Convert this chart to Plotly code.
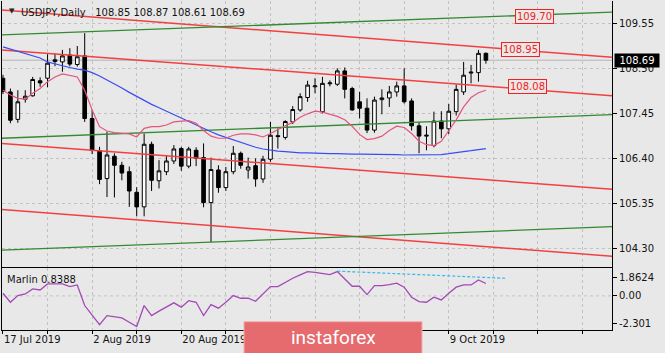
import plotly.graph_objects as go

# ---------------- data ----------------
symbol = "USDJPY"
timeframe = "Daily"

bars = list(range(66))  # trading-day index, 0 = 17 Jul 2019 ... 65 = 16 Oct 2019

opens = [108.27, 107.95, 107.31, 107.78, 107.86, 108.21, 108.27, 108.66, 108.65, 108.81,
         108.59, 108.79, 107.33, 106.58, 105.93, 106.45, 106.24, 106.09, 105.61, 105.27,
         106.73, 105.88, 106.09, 106.34, 106.63, 106.22, 106.59, 106.42, 105.37, 106.13,
         105.72, 106.09, 106.52, 106.13, 106.23, 105.92, 106.38, 106.93, 106.89, 107.25,
         107.53, 107.82, 108.07, 107.49, 108.14, 108.13, 108.44, 108.03, 107.72, 107.57,
         107.06, 107.77, 107.81, 107.95, 108.09, 107.74, 107.16, 106.92, 106.70, 107.27,
         107.09, 107.49, 107.95, 108.39, 108.40, 108.85]
highs = [108.35, 108.03, 107.99, 107.99, 108.30, 108.29, 108.83, 108.85, 108.93, 108.97,
         109.02, 109.32, 107.53, 106.67, 107.02, 106.52, 106.32, 106.21, 105.73, 106.98,
         106.79, 106.36, 106.48, 106.71, 106.67, 106.67, 106.66, 106.75, 106.42, 106.24,
         106.20, 106.69, 106.56, 106.42, 106.40, 106.46, 107.25, 107.10, 107.29, 107.62,
         107.92, 108.21, 108.27, 108.30, 108.22, 108.50, 108.52, 108.07, 107.95, 107.80,
         107.84, 108.01, 108.09, 108.19, 108.50, 107.80, 107.25, 107.15, 107.49, 107.50,
         107.67, 108.12, 108.65, 108.58, 108.93, 108.87]
lows = [107.90, 107.22, 107.23, 107.70, 107.84, 108.07, 108.06, 108.55, 108.42, 108.55,
        108.54, 107.25, 106.50, 105.80, 105.50, 105.49, 105.89, 105.27, 105.05, 105.05,
        105.64, 105.70, 106.01, 106.27, 106.11, 106.17, 106.22, 105.26, 104.45, 105.60,
        105.64, 106.03, 106.16, 105.93, 105.74, 105.83, 106.32, 106.63, 106.84, 107.20,
        107.49, 107.72, 107.92, 107.45, 108.08, 108.09, 107.80, 107.51, 107.33, 106.99,
        107.00, 107.43, 107.60, 107.84, 107.68, 107.05, 106.52, 106.59, 106.66, 106.87,
        106.97, 107.40, 107.88, 108.15, 108.19, 108.61]
closes = [107.96, 107.29, 107.72, 107.85, 108.24, 108.16, 108.62, 108.70, 108.79, 108.60,
          108.77, 107.33, 106.59, 105.91, 106.48, 106.24, 106.06, 105.64, 105.27, 106.73,
          105.89, 106.11, 106.34, 106.62, 106.22, 106.62, 106.40, 105.37, 106.14, 105.72,
          106.09, 106.52, 106.24, 106.20, 105.92, 106.38, 106.94, 106.91, 107.26, 107.54,
          107.84, 108.11, 108.09, 108.15, 108.16, 108.44, 108.01, 107.53, 107.57, 107.06,
          107.76, 107.81, 107.95, 108.09, 107.72, 107.16, 106.92, 106.94, 107.27, 107.09,
          107.50, 108.01, 108.34, 108.41, 108.85, 108.69]

ma_slow = [109.00, 108.95, 108.90, 108.85, 108.80, 108.74, 108.65, 108.60, 108.56, 108.52,
           108.48, 108.46, 108.40, 108.32, 108.23, 108.13, 108.04, 107.94, 107.84, 107.75,
           107.66, 107.58, 107.50, 107.41, 107.33, 107.25, 107.17, 107.09, 107.02, 106.95,
           106.89, 106.83, 106.77, 106.71, 106.66, 106.62, 106.59, 106.57, 106.56, 106.54,
           106.53, 106.53, 106.52, 106.52, 106.51, 106.51, 106.50, 106.50, 106.50, 106.50,
           106.50, 106.49, 106.49, 106.49, 106.48, 106.48, 106.48, 106.48, 106.48, 106.49,
           106.51, 106.54, 106.56, 106.58, 106.60, 106.63]
ma_fast = [107.99, 107.88, 107.80, 107.78, 107.92, 108.03, 108.19, 108.30, 108.37, 108.34,
           108.30, 107.99, 107.53, 107.14, 107.04, 107.00, 106.98, 106.97, 106.90, 107.10,
           107.14, 107.14, 107.18, 107.25, 107.27, 107.28, 107.22, 107.05, 106.92, 106.87,
           106.87, 106.94, 106.97, 106.97, 106.95, 106.90, 106.98, 107.08, 107.16, 107.24,
           107.36, 107.44, 107.50, 107.48, 107.43, 107.38, 107.30, 107.15, 106.96, 106.84,
           106.86, 106.92, 107.05, 107.15, 107.12, 106.98, 106.80, 106.72, 106.70, 106.80,
           107.05, 107.30, 107.60, 107.82, 107.93, 107.99]

marlin = [0.18, -0.43, 0.02, 0.13, 0.47, 0.40, 0.81, 0.81, 0.81, 0.63,
          0.74, -0.65, -1.33, -1.94, -1.33, -1.40, -1.48, -1.78, -2.07, -0.65,
          -1.33, -1.03, -0.76, -0.47, -0.76, -0.32, -0.43, -1.33, -0.59, -0.83,
          -0.43, 0.02, -0.16, -0.16, -0.36, 0.13, 0.63, 0.63, 0.92, 1.19,
          1.42, 1.64, 1.59, 1.53, 1.44, 1.64, 1.15, 0.65, 0.65, 0.09,
          0.70, 0.70, 0.76, 0.86, 0.59, -0.09, -0.38, -0.43, -0.09, -0.27,
          0.18, 0.59, 0.74, 0.74, 1.08, 0.8388]
marlin_trend_bars = [45, 67.6]
marlin_trend_vals = [1.67, 1.19]
marlin_scale = [-2.301, 1.8624]

# channel lines: price at left edge and right edge of the window
red_left = [109.86, 108.93, 106.75, 105.21]
red_right = [108.76, 107.86, 105.68, 104.12]
green_left = [109.28, 106.87, 104.26]
green_right = [109.81, 107.42, 104.81]

level_labels = [109.70, 108.95, 108.08]

price_ticks = [104.30, 105.35, 106.40, 107.45, 108.50, 109.55]
# date labels visible in the picture (the two under the watermark are not shown)
date_tick_bars = [0, 12, 24, 60]
date_tick_labels = ["17 Jul 2019", "2 Aug 2019", "20 Aug 2019", "9 Oct 2019"]

# ---------------- layout constants ----------------
BG = "#e8e8e8"
GRID = "#c2c2c2"
FONT = "DejaVu Sans"
X_RANGE = [-0.13, 81.97]
Y_RANGE = [103.88, 110.07]
W, H = 665, 353
ML, MR, MT, MB = 2, 53, 1, 23
PLOT_W = W - ML - MR
PLOT_H = H - MT - MB


def px_x(p):
    return (p - ML) / PLOT_W


def px_y(p):
    return (H - MB - p) / PLOT_H


fig = go.Figure()

# current price line
fig.add_shape(type="line", xref="x domain", yref="y", x0=0, x1=1, y0=closes[-1], y1=closes[-1],
              line=dict(color="#b4b4b4", width=1), layer="below")

fig.add_trace(go.Candlestick(
    x=bars, open=opens, high=highs, low=lows, close=closes,
    increasing=dict(line=dict(color="#000000", width=1), fillcolor="#ffffff"),
    decreasing=dict(line=dict(color="#000000", width=1), fillcolor="#000000"),
    whiskerwidth=0, hoverinfo="skip", showlegend=False, xaxis="x", yaxis="y"))

for l, r in zip(red_left, red_right):
    fig.add_trace(go.Scatter(x=X_RANGE, y=[l, r], mode="lines", line=dict(color="#f24040", width=1.5),
                             hoverinfo="skip", showlegend=False, xaxis="x", yaxis="y"))
for l, r in zip(green_left, green_right):
    fig.add_trace(go.Scatter(x=X_RANGE, y=[l, r], mode="lines", line=dict(color="#338a33", width=1.3),
                             hoverinfo="skip", showlegend=False, xaxis="x", yaxis="y"))

fig.add_trace(go.Scatter(x=bars, y=ma_slow, mode="lines", line=dict(color="#3a4cf2", width=1.2),
                         hoverinfo="skip", showlegend=False, xaxis="x", yaxis="y"))
fig.add_trace(go.Scatter(x=bars, y=ma_fast, mode="lines", line=dict(color="#e5557a", width=1.2),
                         hoverinfo="skip", showlegend=False, xaxis="x", yaxis="y"))

# oscillator
fig.add_shape(type="line", xref="x2 domain", yref="y2", x0=0, x1=1, y0=0, y1=0,
              line=dict(color=GRID, width=1, dash="3px,3px"), layer="below")
fig.add_trace(go.Scatter(x=bars, y=marlin, mode="lines", line=dict(color="#a548b8", width=1.3),
                         hoverinfo="skip", showlegend=False, xaxis="x2", yaxis="y2"))
fig.add_trace(go.Scatter(x=marlin_trend_bars, y=marlin_trend_vals, mode="lines",
                         line=dict(color="#35b8ee", width=1.2, dash="3px,2px"),
                         hoverinfo="skip", showlegend=False, xaxis="x2", yaxis="y2"))

grid_bars = list(range(0, 80, 6))
grid_text = []
for b in grid_bars:
    grid_text.append(date_tick_labels[date_tick_bars.index(b)] if b in date_tick_bars else "")

axis_font = dict(family=FONT, size=10, color="#141414")

fig.update_layout(
    width=W, height=H, margin=dict(l=ML, r=MR, t=MT, b=MB),
    paper_bgcolor=BG, plot_bgcolor=BG, showlegend=False, hovermode=False,
    font=dict(family=FONT, size=10, color="#141414"),
    xaxis=dict(domain=[0, 1], anchor="y", range=X_RANGE, tickmode="array", tickvals=grid_bars,
               showticklabels=False, ticks="", showgrid=True, gridcolor=GRID, griddash="3px,3px",
               gridwidth=1, zeroline=False, showline=True, linecolor="#000000", linewidth=1,
               rangeslider=dict(visible=False)),
    yaxis=dict(domain=[px_y(266.5), 1], anchor="x", side="right", range=Y_RANGE, tickmode="array",
               tickvals=price_ticks, ticktext=[f"{v:.2f}" for v in price_ticks],
               ticks="outside", ticklen=4, tickcolor="#000000", showgrid=True, gridcolor=GRID,
               griddash="3px,3px", zeroline=False, showline=True, mirror=True, linecolor="#000000",
               linewidth=1, tickfont=axis_font),
    xaxis2=dict(domain=[0, 1], anchor="y2", matches="x", range=X_RANGE, tickmode="array",
                tickvals=grid_bars, ticktext=grid_text, ticklabelposition="outside right",
                ticks="outside", ticklen=3, tickcolor="#000000", showgrid=True, gridcolor=GRID,
                griddash="3px,3px", zeroline=False, showline=True, mirror=True,
                linecolor="#000000", linewidth=1, tickfont=axis_font),
    yaxis2=dict(domain=[0, px_y(268.3)], anchor="x2", side="right", range=marlin_scale,
                tickmode="array", tickvals=[1.23, 0, -1.89],
                ticktext=[f"{marlin_scale[1]:.4f}", "0.00", f"{marlin_scale[0]:.3f}"],
                ticks="outside", ticklen=4, tickcolor="#000000", showgrid=False, zeroline=False,
                showline=True, mirror=True, linecolor="#000000", linewidth=1, tickfont=axis_font),
)

# title
fig.add_annotation(xref="paper", yref="paper", x=px_x(7), y=px_y(11.5), xanchor="left", yanchor="middle",
                   text="\u25bc", showarrow=False, font=dict(family=FONT, size=7, color="#222222"))
fig.add_annotation(xref="paper", yref="paper", x=px_x(19), y=px_y(12), xanchor="left", yanchor="middle",
                   text=f"{symbol},{timeframe}\u00a0\u00a0 {opens[-1]:.2f} {highs[-1]:.2f} {lows[-1]:.2f} {closes[-1]:.2f}",
                   showarrow=False, font=dict(family=FONT, size=10, color="#141414"))
fig.add_annotation(xref="paper", yref="paper", x=px_x(5), y=px_y(279), xanchor="left", yanchor="middle",
                   text=f"Marlin {marlin[-1]:.4f}", showarrow=False,
                   font=dict(family=FONT, size=10, color="#141414"))

# level labels
label_x = [71.6, 69.6, 70.6]
for lx, lv in zip(label_x, level_labels):
    fig.add_annotation(xref="x", yref="y", x=lx, y=lv, text=f"{lv:.2f}", showarrow=False,
                       font=dict(family=FONT, size=10, color="#f22020"), bgcolor=BG,
                       bordercolor="#f22020", borderwidth=1, borderpad=1)

# current price box
fig.add_annotation(xref="paper", yref="y", x=1, xshift=2, y=closes[-1], xanchor="left", yanchor="middle",
                   text=f"{closes[-1]:.2f}", showarrow=False, font=dict(family=FONT, size=10, color="#ffffff"),
                   bgcolor="#000000", width=42, height=11, borderpad=1)

# watermark
fig.add_shape(type="rect", xref="paper", yref="paper", x0=px_x(244), x1=px_x(422), y0=px_y(354), y1=px_y(321.7),
              fillcolor="#e56b6e", line=dict(color="#f3b0b0", width=1), layer="above")
fig.add_annotation(xref="paper", yref="paper", x=px_x(333), y=px_y(337), xanchor="center", yanchor="middle",
                   text="instaforex", showarrow=False, font=dict(family="Roboto", size=19, color="#ffffff"))

fig.write_html("out.html")
